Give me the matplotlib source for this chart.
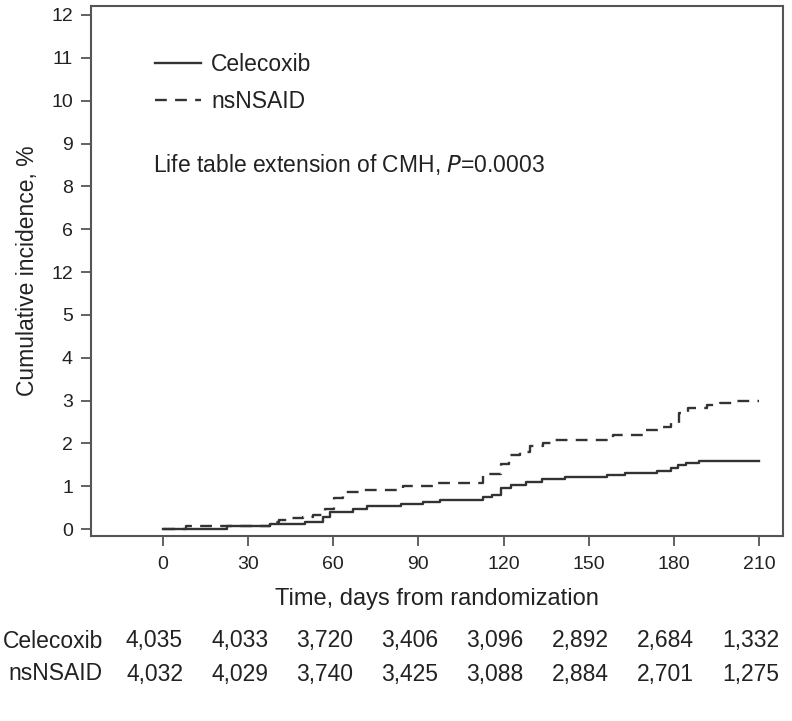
import numpy as np
import matplotlib
matplotlib.use("Agg")
import matplotlib.pyplot as plt

plt.rcParams['font.family'] = ['Liberation Sans', 'DejaVu Sans']

# step data (day, cumulative incidence %)
cel_days = [0, 22.5, 37.7, 50, 56.4, 59, 67, 72, 84, 91.6, 97.6, 112.6, 116, 119,
            122.8, 127.9, 133.4, 141.6, 156.3, 162.8, 174, 179.2, 181.5, 184.3, 188.9, 210]
cel_inc = [0.0, 0.08, 0.13, 0.17, 0.29, 0.40, 0.48, 0.54, 0.58, 0.63, 0.67, 0.74, 0.79, 0.97,
           1.03, 1.10, 1.17, 1.21, 1.27, 1.30, 1.35, 1.43, 1.49, 1.55, 1.59, 1.59]

ns_days = [0, 8, 37.7, 41, 44.6, 49.3, 52.9, 57, 60.4, 63.5, 70, 84.6, 95, 112.6, 119,
           122, 125.8, 129.3, 134, 137.6, 158.6, 169, 175, 179.2, 182, 185, 191.6, 196.3, 201, 210]
ns_inc = [0.0, 0.08, 0.17, 0.21, 0.25, 0.29, 0.33, 0.48, 0.72, 0.87, 0.91, 1.00, 1.07, 1.28, 1.53,
          1.73, 1.81, 1.94, 2.02, 2.09, 2.19, 2.31, 2.39, 2.48, 2.70, 2.83, 2.90, 2.95, 2.99, 2.99]

xticks = [0, 30, 60, 90, 120, 150, 180, 210]
yticks = list(range(13))
# tick labels exactly as printed in the original figure
ytick_labels = ['0', '1', '2', '3', '4', '5', '12', '6', '8', '9', '10', '11', '12']

at_risk_cel = ['4,035', '4,033', '3,720', '3,406', '3,096', '2,892', '2,684', '1,332']
at_risk_ns = ['4,032', '4,029', '3,740', '3,425', '3,088', '2,884', '2,701', '1,275']

ink = '#333333'
txt = '#222222'
fs = 16.5
fig = plt.figure(figsize=(7.92, 7.21), dpi=100)
ax = fig.add_axes([0.1149, 0.2566, 0.9886 - 0.1149, 0.9917 - 0.2566])

ax.step(cel_days, cel_inc, where='post', color=ink, lw=1.7, label='Celecoxib')
ax.step(ns_days, ns_inc, where='post', color=ink, lw=1.7, linestyle=(0, (5, 3.5)), label='nsNSAID')

ax.set_xlim(-25.4, 218.5)
ax.set_ylim(-0.16, 12.21)
ax.set_xticks(xticks)
ax.set_xticklabels([str(t) for t in xticks])
ax.set_yticks(yticks)
ax.set_yticklabels(ytick_labels)
ax.tick_params(colors='#555555', labelcolor=txt, labelsize=14, width=1.3, length=7, direction='out')
ax.tick_params(axis='x', pad=7.5)
ax.tick_params(axis='y', pad=6)
for s in ax.spines.values():
    s.set_color('#555555')
    s.set_linewidth(1.5)

ax.set_xlabel('Time, days from randomization', fontsize=17, color=txt, labelpad=11)
ax.set_ylabel('Cumulative incidence, %', fontsize=16.5, color=txt, labelpad=9)

leg = ax.legend(loc='upper left', bbox_to_anchor=(0.079, 0.928), frameon=False, fontsize=fs,
                handlelength=2.0, handletextpad=0.45, labelspacing=0.6, borderaxespad=0)
for t in leg.get_texts():
    t.set_color(txt)

ax.text(0.089, 0.70, 'Life table extension of CMH, $\\it{P}$=0.0003', transform=ax.transAxes,
        fontsize=fs, color=txt, va='center', ha='left')

# numbers at risk under the axis
trans = matplotlib.transforms.blended_transform_factory(ax.transData, fig.transFigure)
row_y = [1 - 641 / 721, 1 - 674 / 721]
fig.text(103 / 792, row_y[0], 'Celecoxib', ha='right', va='center', fontsize=fs, color=txt)
fig.text(103 / 792, row_y[1], 'nsNSAID', ha='right', va='center', fontsize=fs, color=txt)
for i in range(len(xticks)):
    ax.text(xticks[i] - 3, row_y[0], at_risk_cel[i], transform=trans, ha='center', va='center',
            fontsize=fs, color=txt, clip_on=False)
    ax.text(xticks[i] - 3, row_y[1], at_risk_ns[i], transform=trans, ha='center', va='center',
            fontsize=fs, color=txt, clip_on=False)

fig.savefig('out.png', dpi=100)
